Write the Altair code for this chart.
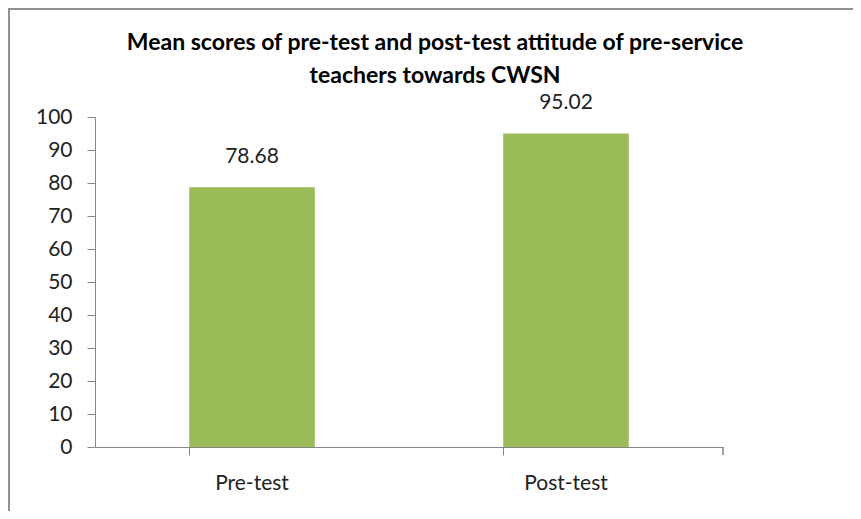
import altair as alt
import pandas as pd

categories = ["Pre-test", "Post-test"]
scores = [78.68, 95.02]
score_labels = ["78.68", "95.02"]
y_ticks = [0, 10, 20, 30, 40, 50, 60, 70, 80, 90, 100]

df = pd.DataFrame({"cat": categories, "score": scores, "label": score_labels})

FONT = "Lato"
W, H = 628, 330

x_enc = alt.X("cat:N", sort=categories, title=None,
              scale=alt.Scale(paddingInner=0.6, paddingOuter=0.3),
              axis=alt.Axis(labelAngle=0, bandPosition=0, domainColor="#868686",
                            tickColor="#868686", tickSize=8, labelPadding=17,
                            labelFontSize=21, labelFont=FONT, labelColor="#222222"))
y_enc = alt.Y("score:Q", title=None,
              scale=alt.Scale(domain=[0, 100], nice=False),
              axis=alt.Axis(values=y_ticks, grid=False,
                            labelOverlap=False,
                            domainColor="#868686", tickColor="#868686", tickSize=8,
                            labelPadding=15, labelFontSize=21, labelFont=FONT,
                            labelColor="#222222"))

base = alt.Chart(df)

bars = base.mark_bar(color="#9BBB59").encode(x=x_enc, y=y_enc)
labels = base.mark_text(fontSize=21, font=FONT, color="#222222", dy=-30,
                        baseline="middle").encode(x=x_enc, y=y_enc, text="label:N")

end_tick = base.mark_rule(color="#868686").encode(
    x=alt.value(W), y=alt.value(H), y2=alt.value(H + 8))
left_border = base.mark_rule(color="#8a8a8a", strokeWidth=1.5).encode(
    x=alt.value(-86), y=alt.value(-109), y2=alt.value(H + 64 + 8))
top_border = base.mark_rule(color="#8a8a8a", strokeWidth=1.5).encode(
    x=alt.value(-86), x2=alt.value(W + 130), y=alt.value(-108))

chart = alt.layer(bars, labels, end_tick, left_border, top_border).properties(
    width=W, height=H,
    title=alt.TitleParams(
        ["Mean scores of pre-test and post-test attitude of pre-service",
         "teachers towards CWSN"],
        anchor="middle", font=FONT, fontSize=23, fontWeight="bold",
        color="#000000", lineHeight=33, offset=-81, dx=26),
    autosize=alt.AutoSizeParams(type="none"),
    padding={"left": 87, "top": 109, "right": 130, "bottom": 64},
    background="white",
).configure_view(stroke=None)

chart.save("out.html", embed_options={"renderer": "svg", "actions": False})
